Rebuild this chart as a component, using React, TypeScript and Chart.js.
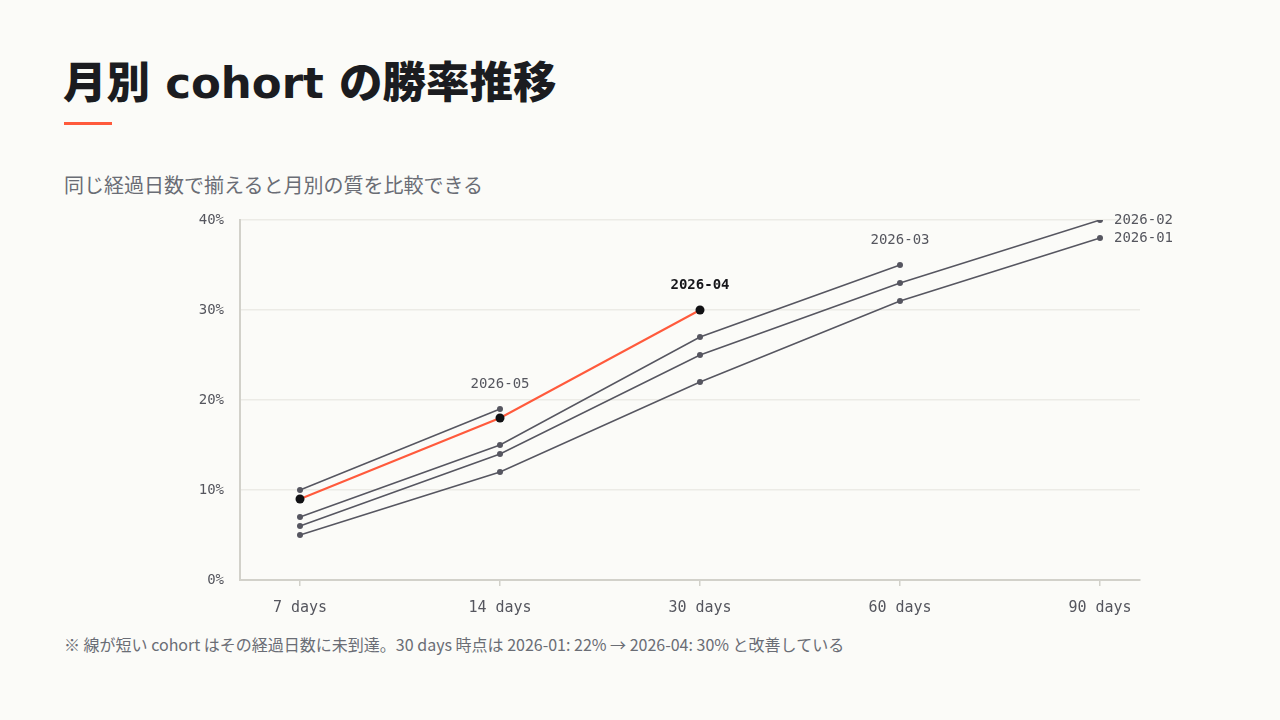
import * as React from 'react';
import {useRef, useEffect} from 'react';
import {Chart, registerables} from 'chart.js';

Chart.register(...registerables);

const DAYS = ['7 days', '14 days', '30 days', '60 days', '90 days'];
const COHORTS = ['2026-01', '2026-02', '2026-03', '2026-04', '2026-05'];
const RATE_01 = [5, 12, 22, 31, 38];
const RATE_02 = [6, 14, 25, 33, 40];
const RATE_03 = [7, 15, 27, 35];
const RATE_04 = [9, 18, 30];
const RATE_05 = [10, 19];
const Y_TICKS = [0, 10, 20, 30, 40];
const HIGHLIGHT = '2026-04';

const GRAY = '#565660';
const ORANGE = '#ff5a3c';
const MONO = '"DejaVu Sans Mono", monospace';
const JP = '"Noto Sans CJK JP", "Noto Sans", sans-serif';

const toPoints = (vals: number[]) => vals.map((v, i) => ({x: i, y: v}));

// label at the end of each cohort line
const endLabels = {
  id: 'endLabels',
  afterDatasetsDraw(chart) {
    const ctx = chart.ctx;
    const lastIdx = DAYS.length - 1;
    chart.data.datasets.forEach((ds, i) => {
      const meta = chart.getDatasetMeta(i);
      const n = ds.data.length;
      const pt = meta.data[n - 1];
      if (!pt) return;
      const hl = ds.label === HIGHLIGHT;
      ctx.save();
      ctx.font = (hl ? 'bold ' : '') + '14px ' + MONO;
      ctx.fillStyle = hl ? '#16161a' : '#55565e';
      ctx.textBaseline = 'middle';
      if (n - 1 === lastIdx) {
        ctx.textAlign = 'left';
        ctx.fillText(ds.label, pt.x + 14, pt.y);
      } else {
        ctx.textAlign = 'center';
        ctx.fillText(ds.label, pt.x, pt.y - 25);
      }
      ctx.restore();
    });
  }
};

const CohortChart = () => {
  const canvasRef = useRef(null);

  useEffect(() => {
    const series = [RATE_01, RATE_02, RATE_03, RATE_04, RATE_05];
    const datasets = COHORTS.map((name, i) => {
      const hl = name === HIGHLIGHT;
      return {
        label: name,
        data: toPoints(series[i]),
        borderColor: hl ? ORANGE : GRAY,
        borderWidth: hl ? 2 : 1.5,
        pointRadius: hl ? 4.5 : 3,
        pointBackgroundColor: hl ? '#111114' : GRAY,
        pointBorderWidth: 0,
        order: hl ? 0 : 1,
        tension: 0
      };
    });

    const chart = new Chart(canvasRef.current.getContext('2d'), {
      type: 'line',
      data: {datasets},
      plugins: [endLabels],
      options: {
        animation: false,
        responsive: true,
        maintainAspectRatio: false,
        layout: {padding: {top: 20, right: 100, left: 0, bottom: 0}},
        plugins: {
          legend: {display: false},
          tooltip: {enabled: false}
        },
        scales: {
          x: {
            type: 'linear',
            min: -0.3,
            max: 4.2,
            afterBuildTicks: (scale) => {
              scale.ticks = DAYS.map((d, i) => ({value: i}));
            },
            afterFit: (scale) => {
              scale.height = 50;
              scale.paddingLeft = 0;
              scale.paddingRight = 0;
            },
            grid: {
              drawOnChartArea: false,
              color: '#d2d1ca',
              tickLength: 6,
              lineWidth: 1.5
            },
            border: {color: '#d2d1ca', width: 2},
            ticks: {
              padding: 13,
              color: '#55565e',
              font: {family: MONO, size: 15},
              maxRotation: 0,
              callback: (v) => DAYS[v]
            }
          },
          y: {
            min: 0,
            max: 40,
            afterBuildTicks: (scale) => {
              scale.ticks = Y_TICKS.map(v => ({value: v}));
            },
            afterFit: (scale) => {
              scale.width = 100;
              scale.paddingTop = 0;
              scale.paddingBottom = 0;
            },
            grid: {
              color: '#ecebe6',
              lineWidth: 1.5,
              drawTicks: false
            },
            border: {color: '#d2d1ca', width: 2},
            ticks: {
              padding: 16,
              color: '#55565e',
              font: {family: MONO, size: 14},
              callback: (v) => v + '%'
            }
          }
        }
      }
    });
    return () => chart.destroy();
  }, []);

  return <div style={{position: 'absolute', left: 140, top: 200, width: 1100, height: 430}}>
    <canvas ref={canvasRef} />
  </div>;
};

export default function App() {
  return <div style={{position: 'fixed', inset: 0, background: '#fbfbf8', fontFamily: JP, overflow: 'hidden'}}>
    <div style={{position: 'absolute', left: 63, top: 58, fontFamily: '"DejaVu Sans", "Noto Sans CJK JP", sans-serif', fontSize: 43.5, lineHeight: '50px', fontWeight: 900, color: '#1b1c20', whiteSpace: 'nowrap'}}>
      月別 cohort の勝率推移
    </div>
    <div style={{position: 'absolute', left: 64, top: 122, width: 48, height: 3, background: ORANGE}} />
    <div style={{position: 'absolute', left: 64, top: 172, fontSize: 20, lineHeight: '26px', color: '#6a6d75', whiteSpace: 'nowrap'}}>
      同じ経過日数で揃えると月別の質を比較できる
    </div>
    <CohortChart />
    <div style={{position: 'absolute', left: 64, top: 633, fontSize: 16, lineHeight: '22px', color: '#6a6d75', whiteSpace: 'nowrap'}}>
      ※ 線が短い cohort はその経過日数に未到達。30 days 時点は 2026-01: 22% → 2026-04: 30% と改善している
    </div>
  </div>;
}
